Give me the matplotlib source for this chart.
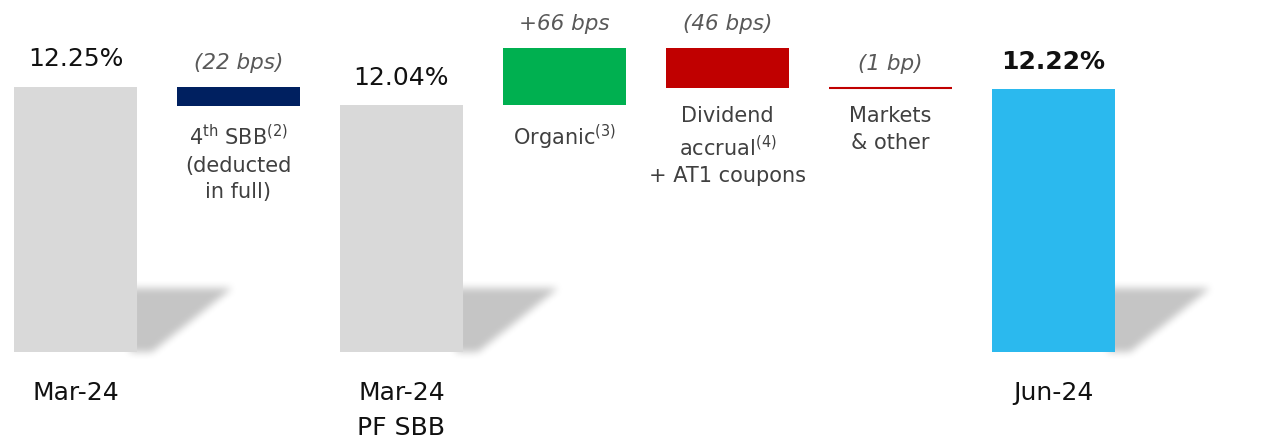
import numpy as np
import matplotlib
matplotlib.use("Agg")
import matplotlib.pyplot as plt

plt.rcParams['font.family'] = ['DejaVu Sans']
plt.rcParams['mathtext.fontset'] = 'dejavusans'

# data (CET1 ratio walk, %)
categories = ["Mar-24", "4th SBB", "Mar-24\nPF SBB", "Organic", "Dividend", "Markets", "Jun-24"]
start_value = 12.25
pf_value = 12.04
end_value = 12.22
deltas_bps = [-22, 66, -46, -1]   # SBB, Organic, Dividend+AT1, Markets & other
delta_labels = ["(22 bps)", "+66 bps", "(46 bps)", "(1 bp)"]
total_labels = ["12.25%", "12.04%", "12.22%"]
sub_labels = ["4$^{\\mathrm{th}}$ SBB$^{\\mathrm{(2)}}$\n(deducted\nin full)",
              "Organic$^{\\mathrm{(3)}}$",
              "Dividend\naccrual$^{\\mathrm{(4)}}$\n+ AT1 coupons",
              "Markets\n& other"]

floor = 9.19   # chart floor (axis is truncated)
width = 0.755
grey = "#d9d9d9"
delta_colors = ["#002060", "#00b050", "#c00000", "#c00000"]
blue = "#2bb9ee"

fig = plt.figure(figsize=(12.69, 4.40), dpi=100)
ax = fig.add_axes([0, 0, 1, 1])
ax.set_xlim(-0.463, 7.322)
ax.set_ylim(8.175, 13.25)
ax.set_axis_off()


def shadow(xc, base):
    # blurred drop shadow to the right of a total bar
    r = xc + width / 2
    x0, x1 = r - 0.15, r + 0.9
    y0, y1 = base - 0.15, base + 1.0
    nx, ny = 172, 100
    xs = np.linspace(x0, x1, nx)
    ys = np.linspace(y0, y1, ny)
    X, Y = np.meshgrid(xs, ys)
    h = 0.74
    t = (Y - base) / h
    reach = r + 0.09 + t * (0.58 - 0.09)
    mask = ((Y >= base) & (Y <= base + h) & (X >= r - 0.05) & (X <= reach)).astype(float)
    k = np.ones(9) / 9
    for _ in range(2):
        mask = np.apply_along_axis(lambda m: np.convolve(m, k, mode='same'), 0, mask)
        mask = np.apply_along_axis(lambda m: np.convolve(m, k, mode='same'), 1, mask)
    img = np.zeros((ny, nx, 4))
    img[..., 3] = mask * 0.23
    ax.imshow(img, extent=(x0, x1, y0, y1), origin='lower', aspect='auto',
              interpolation='bilinear', zorder=1)


# totals
totals_x = [0, 2, 6]
totals_v = [start_value, pf_value, end_value]
totals_c = [grey, grey, blue]
for xi, v, c, lab in zip(totals_x, totals_v, totals_c, total_labels):
    shadow(xi, floor)
    ax.bar(xi, v - floor, bottom=floor, width=width, color=c, zorder=2)
    ax.annotate(lab, (xi, v), xytext=(0, 11), textcoords='offset points',
                ha='center', va='bottom', fontsize=18, color='#111111',
                fontweight='bold' if xi == 6 else 'normal')

# deltas
level_before = [start_value, pf_value, pf_value + 0.66, pf_value + 0.66 - 0.46]
delta_x = [1, 3, 4, 5]
for xi, lv, d, c, lab, sub in zip(delta_x, level_before, deltas_bps, delta_colors,
                                  delta_labels, sub_labels):
    dv = d / 100.0
    lo, hi = min(lv, lv + dv), max(lv, lv + dv)
    ax.bar(xi, hi - lo, bottom=lo, width=width, color=c, zorder=2,
           edgecolor=c, linewidth=1.5 if abs(d) < 5 else 0)
    ax.annotate(lab, (xi, hi), xytext=(0, 10), textcoords='offset points',
                ha='center', va='bottom', fontsize=15.5, style='italic', color='#595959')
    ax.annotate(sub, (xi, lo), xytext=(0, -13), textcoords='offset points',
                ha='center', va='top', fontsize=15, color='#404040',
                linespacing=1.42, multialignment='center')

# category labels
for xi in totals_x:
    ax.text(xi, floor - 0.34, categories[xi], ha='center', va='top',
            fontsize=18, color='#111111', linespacing=1.55)

fig.savefig("out.png", dpi=100)
